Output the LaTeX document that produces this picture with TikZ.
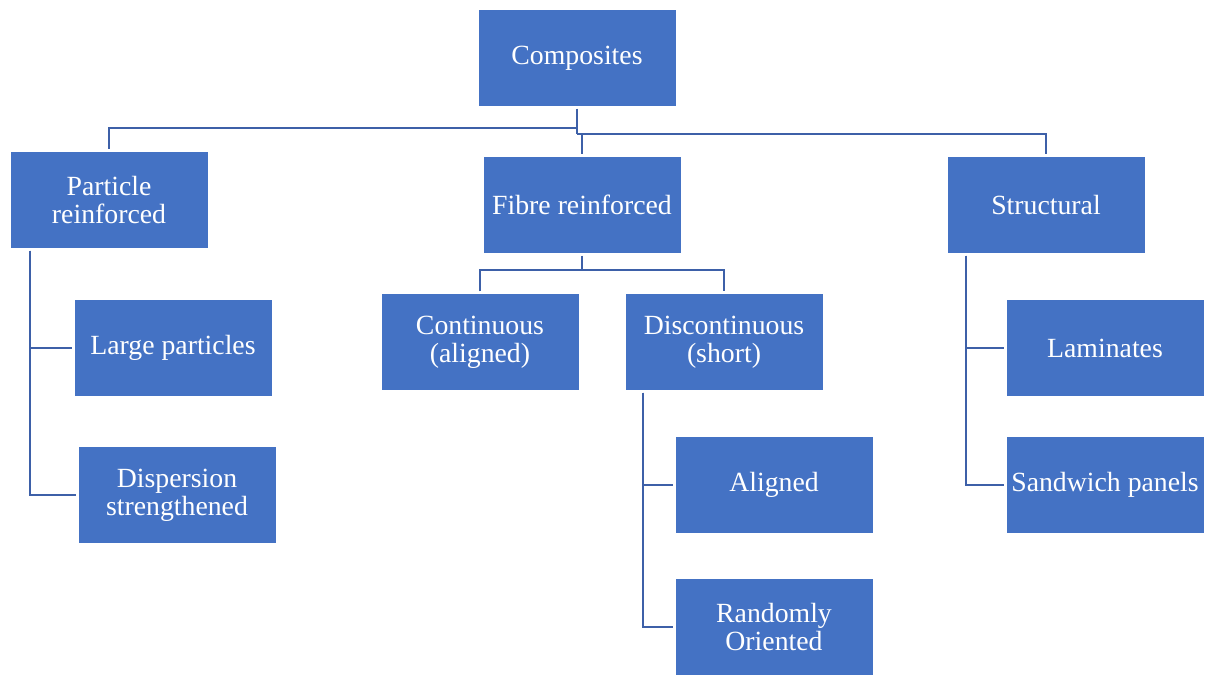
\documentclass[tikz,border=0pt]{standalone}
\usepackage{fontspec}
\setmainfont{Liberation Serif}
\usepackage{xcolor}
\usepackage{tikz}
\usetikzlibrary{positioning}
\definecolor{boxblue}{HTML}{4472C4}
\definecolor{lineblue}{RGB}{61,96,168}

\begin{document}
\begin{tikzpicture}[x=0.02cm,y=-0.02cm,
    box/.style={fill=boxblue,draw=white,line width=0.5pt,text=white,
      minimum width=3.96cm,minimum height=1.94cm,inner sep=1pt,outer sep=1.2pt,
      align=center,font=\fontsize{15.8}{16}\selectfont},
    conn/.style={draw=lineblue,line width=1.1pt}]
    \useasboundingbox (0,0) rectangle (1215,675);
    \node[box] (comp) at (577,58) {Composites};
    \node[box] (part) at (109,200) {Particle\\reinforced};
    \node[box] (fibre) at (582,205) {Fibre reinforced};
    \node[box] (struct) at (1046,205) {Structural};
    \node[box] (large) at (173,348) {Large particles};
    \node[box] (disp) at (177,495) {Dispersion\\strengthened};
    \node[box] (cont) at (480,342) {Continuous\\(aligned)};
    \node[box] (disc) at (724,342) {Discontinuous\\(short)};
    \node[box] (align) at (774,485) {Aligned};
    \node[box] (random) at (774,627) {Randomly\\Oriented};
    \node[box] (lam) at (1105,348) {Laminates};
    \node[box] (sand) at (1105,485) {Sandwich panels};
    \coordinate (jl) at (577,128);
    \coordinate (jr) at (577,134);
    \coordinate (fj) at (582,270);
    \draw[conn] (comp.south) -- (jr);
    \draw[conn] (jl) -| (part.north);
    \draw[conn] (jr) -| (struct.north);
    \draw[conn] (jr) -| (fibre.north);
    \draw[conn] (fibre.south) -- (fj);
    \draw[conn] (cont.north) |- (fj) -| (disc.north);
    \draw[conn] (part.south west) ++(22,0) |- (large.west);
    \draw[conn] (part.south west) ++(22,0) |- (disp.west);
    \draw[conn] (disc.south west) ++(20,0) |- (align.west);
    \draw[conn] (disc.south west) ++(20,0) |- (random.west);
    \draw[conn] (struct.south west) ++(21,0) |- (lam.west);
    \draw[conn] (struct.south west) ++(21,0) |- (sand.west);
\end{tikzpicture}
\end{document}
